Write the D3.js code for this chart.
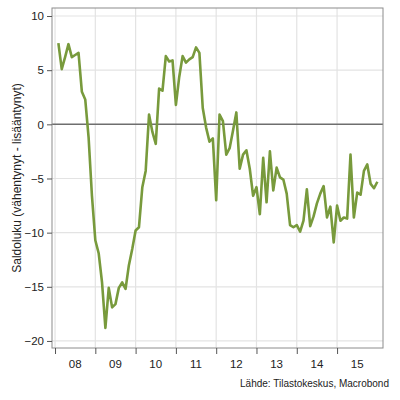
<!DOCTYPE html>
<html><head><meta charset="utf-8">
<script src="https://cdn.jsdelivr.net/npm/d3@7"></script>
<style>body{margin:0;background:#fff}svg{display:block}text{font-family:"Liberation Sans",Arial,sans-serif}</style>
</head><body>
<svg id="c" width="400" height="400"></svg>
<script>
const startYear = 2008;
const values = [
  7.5, 5.1, 6.2, 7.4, 6.2, 6.4, 6.6, 3.0, 2.3, -1.2, -6.6, -10.7,
  -11.9, -14.6, -18.8, -15.1, -16.9, -16.6, -15.1, -14.6, -15.2, -13.0, -11.5, -9.8,
  -9.5, -5.8, -4.3, 0.9, -0.7, -1.8, 3.3, 3.1, 6.3, 5.8, 5.9, 1.8,
  4.4, 6.3, 5.7, 6.0, 6.2, 7.1, 6.6, 1.5, -0.3, -1.6, -1.3, -7.0,
  0.9, 0.3, -2.8, -2.2, -0.6, 1.1, -4.1, -2.8, -2.4, -4.1, -6.6, -5.8,
  -8.3, -3.1, -7.2, -2.5, -6.1, -4.0, -4.9, -5.1, -6.4, -9.3, -9.5, -9.3,
  -9.9, -8.9, -6.0, -9.4, -8.5, -7.3, -6.4, -5.7, -8.6, -7.6, -10.9, -7.5,
  -8.9, -8.6, -8.7, -2.8, -8.6, -6.3, -6.5, -4.3, -3.7, -5.5, -5.9, -5.3
];
const yTicks = [10, 5, 0, -5, -10, -15, -20];
const yearTicks = [2008, 2009, 2010, 2011, 2012, 2013, 2014, 2015];
const yearLabels = ["08", "09", "10", "11", "12", "13", "14", "15"];
const yLabel = "Saldoluku (vähentynyt - lisääntynyt)";
const source = "Lähde: Tilastokeskus, Macrobond";

const L = 52, R = 383, T = 8, B = 348;
const svg = d3.select("#c");
const x = d3.scaleLinear().domain([2007.925, 2016.14]).range([L, R]);
const y = d3.scaleLinear().domain([10.74, -20.65]).range([T, B]);

const data = values.map((v, i) => ({t: startYear + (i + 1) / 12, v}));

// grid
svg.append("g").selectAll("line").data(yTicks.filter(d => d !== 0)).join("line")
  .attr("x1", L).attr("x2", R).attr("y1", d => y(d)).attr("y2", d => y(d))
  .attr("stroke", "#e3e3e3").attr("stroke-width", 1.2);
svg.append("g").selectAll("line").data(yearTicks).join("line")
  .attr("x1", d => x(d)).attr("x2", d => x(d)).attr("y1", T).attr("y2", B)
  .attr("stroke", "#e3e3e3").attr("stroke-width", 1.2);

// zero line
svg.append("line").attr("x1", L).attr("x2", R).attr("y1", y(0)).attr("y2", y(0))
  .attr("stroke", "#6e6e6e").attr("stroke-width", 1.5);

// frame
svg.append("rect").attr("x", L).attr("y", T).attr("width", R - L).attr("height", B - T)
  .attr("fill", "none").attr("stroke", "#8c8c8c").attr("stroke-width", 1);

// y axis
const ya = d3.axisLeft(y).tickValues(yTicks).tickSize(5).tickPadding(3).tickFormat(d3.format("d"));
svg.append("g").attr("transform", `translate(${L},0)`).call(ya)
  .call(g => g.select(".domain").remove())
  .call(g => g.selectAll(".tick line").attr("stroke", "#555"))
  .call(g => g.selectAll("text").attr("font-size", 11.5).attr("fill", "#222")
    .attr("font-family", "'Liberation Sans', Arial, sans-serif"));

// x axis ticks
const xa = d3.axisBottom(x).tickValues(yearTicks).tickSize(6).tickFormat("");
svg.append("g").attr("transform", `translate(0,${B})`).call(xa)
  .call(g => g.select(".domain").remove())
  .call(g => g.selectAll(".tick line").attr("stroke", "#555"));
svg.append("g").selectAll("text").data(yearTicks).join("text")
  .attr("x", d => x(d + 0.5)).attr("y", 368).attr("text-anchor", "middle")
  .attr("font-size", 11.5).attr("fill", "#222").text((d, i) => yearLabels[i]);

// line
svg.append("path").datum(data)
  .attr("fill", "none").attr("stroke", "#789a3c").attr("stroke-width", 2.6)
  .attr("stroke-linejoin", "round")
  .attr("d", d3.line().x(d => x(d.t)).y(d => y(d.v)));

// labels
svg.append("text").attr("transform", `translate(21,${(T + B) / 2}) rotate(-90)`)
  .attr("text-anchor", "middle").attr("font-size", 12).attr("fill", "#222").text(yLabel);
svg.append("text").attr("x", 389).attr("y", 387).attr("text-anchor", "end")
  .attr("font-size", 10).attr("fill", "#222").text(source);
</script>
</body></html>
